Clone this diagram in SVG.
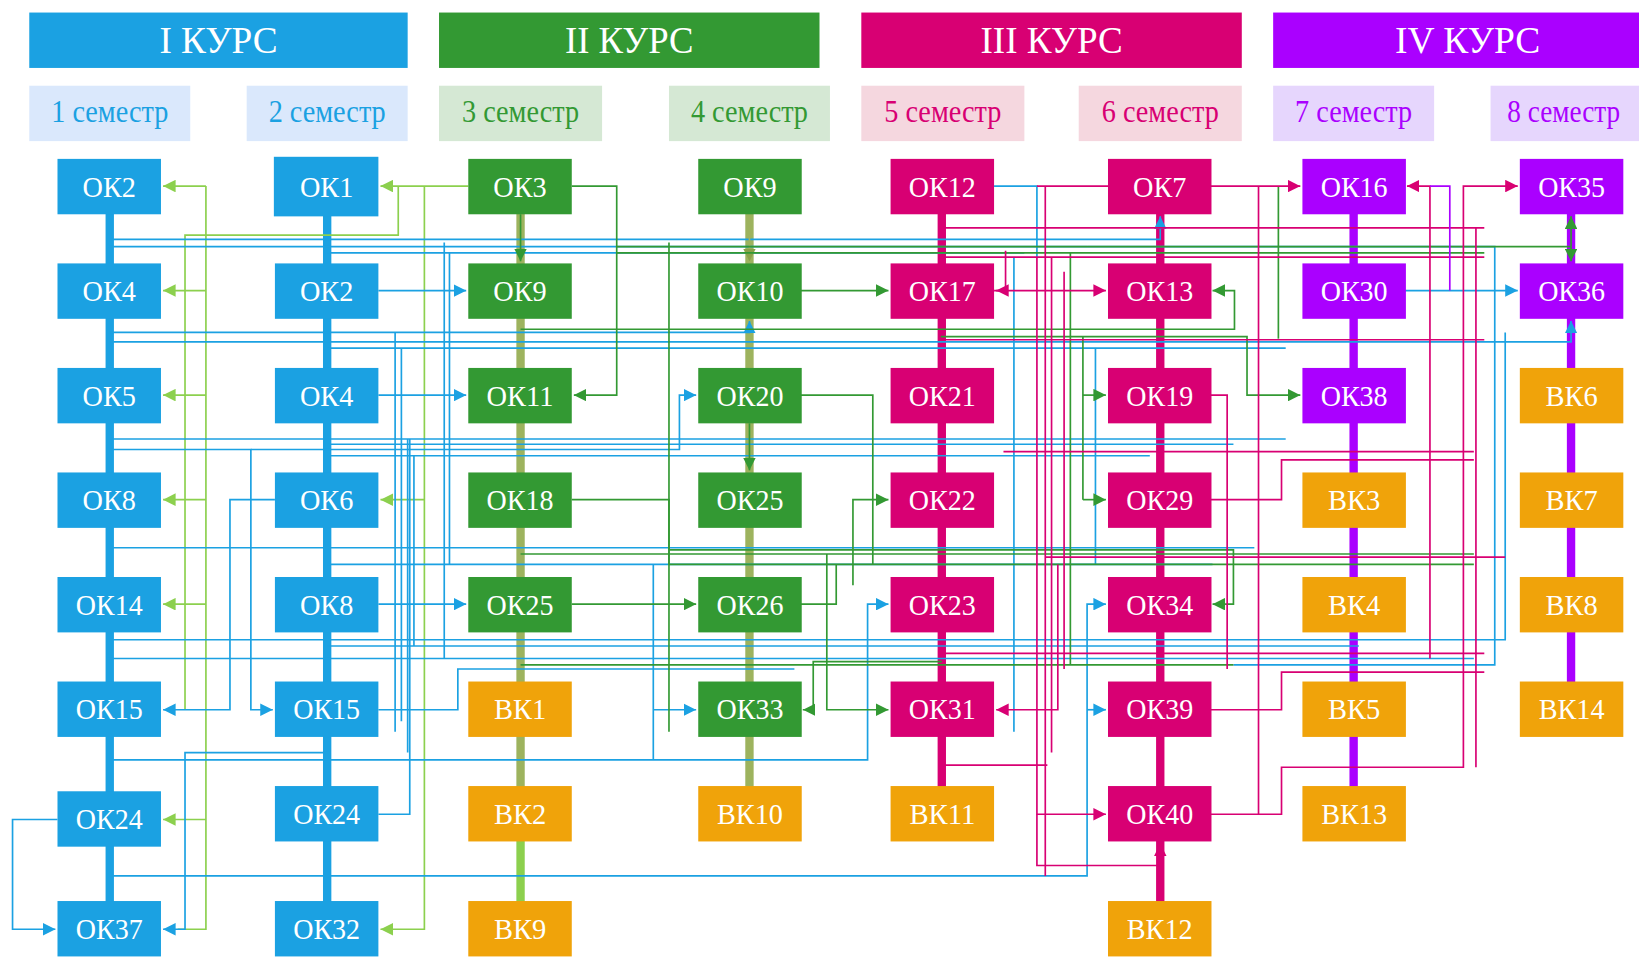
<svg xmlns="http://www.w3.org/2000/svg" width="1639" height="957" viewBox="0 0 1639 957">
<defs>
<style>
.hd{fill:#fff;font-family:"Liberation Serif",serif;font-size:37px;text-anchor:middle}
.st{font-family:"Liberation Serif",serif;font-size:30px;text-anchor:middle}
.nt{fill:#fff;font-family:"Liberation Serif",serif;font-size:29px;text-anchor:middle}
.cb{fill:#1ba1e2}.cg{fill:#339933}.cm{fill:#d80073}.cv{fill:#aa00ff}.ca{fill:#f0a30a}
path{fill:none;stroke-width:1.6}
.b{stroke:#1ba1e2}.g{stroke:#339933}.lg{stroke:#8cd04e}.m{stroke:#d80073}.v{stroke:#aa00ff}.ol{stroke:#9db35e}
.thk{stroke-width:8;stroke-linecap:round}
</style>
<marker id="ab" viewBox="0 0 10 10" refX="10" refY="5" markerWidth="12" markerHeight="12" markerUnits="userSpaceOnUse" orient="auto"><polygon points="0,0 10,5 0,10" fill="#1ba1e2"/></marker>
<marker id="ag" viewBox="0 0 10 10" refX="10" refY="5" markerWidth="12" markerHeight="12" markerUnits="userSpaceOnUse" orient="auto"><polygon points="0,0 10,5 0,10" fill="#339933"/></marker>
<marker id="alg" viewBox="0 0 10 10" refX="10" refY="5" markerWidth="12" markerHeight="12" markerUnits="userSpaceOnUse" orient="auto"><polygon points="0,0 10,5 0,10" fill="#8cd04e"/></marker>
<marker id="am" viewBox="0 0 10 10" refX="10" refY="5" markerWidth="12" markerHeight="12" markerUnits="userSpaceOnUse" orient="auto"><polygon points="0,0 10,5 0,10" fill="#d80073"/></marker>
<marker id="aol" viewBox="0 0 10 10" refX="10" refY="5" markerWidth="12" markerHeight="12" markerUnits="userSpaceOnUse" orient="auto"><polygon points="0,0 10,5 0,10" fill="#8aa34a"/></marker>
</defs>
<rect width="1639" height="957" fill="#fff"/>
<g transform="scale(1.04528)">
<g id="headers">
<rect x="28" y="12" width="362" height="53" class="cb"/><text x="209" y="51" class="hd" textLength="113" lengthAdjust="spacingAndGlyphs">I КУРС</text>
<rect x="420" y="12" width="364" height="53" class="cg"/><text x="602" y="51" class="hd" textLength="123" lengthAdjust="spacingAndGlyphs">II КУРС</text>
<rect x="824" y="12" width="364" height="53" class="cm"/><text x="1006" y="51" class="hd" textLength="136" lengthAdjust="spacingAndGlyphs">III КУРС</text>
<rect x="1218" y="12" width="364" height="53" class="cv"/><text x="1404" y="51" class="hd" textLength="139" lengthAdjust="spacingAndGlyphs">IV КУРС</text>
</g>
<g id="semesters">
<rect x="28" y="82" width="154" height="53" fill="#dae8fc"/><text x="105" y="117" class="st" fill="#1ba1e2" textLength="112" lengthAdjust="spacingAndGlyphs">1 семестр</text>
<rect x="236" y="82" width="154" height="53" fill="#dae8fc"/><text x="313" y="117" class="st" fill="#1ba1e2" textLength="112" lengthAdjust="spacingAndGlyphs">2 семестр</text>
<rect x="420" y="82" width="156" height="53" fill="#d5e8d4"/><text x="498" y="117" class="st" fill="#339933" textLength="112" lengthAdjust="spacingAndGlyphs">3 семестр</text>
<rect x="640" y="82" width="154" height="53" fill="#d5e8d4"/><text x="717" y="117" class="st" fill="#339933" textLength="112" lengthAdjust="spacingAndGlyphs">4 семестр</text>
<rect x="824" y="82" width="156" height="53" fill="#f5d7df"/><text x="902" y="117" class="st" fill="#d80073" textLength="112" lengthAdjust="spacingAndGlyphs">5 семестр</text>
<rect x="1032" y="82" width="156" height="53" fill="#f5d7df"/><text x="1110" y="117" class="st" fill="#d80073" textLength="112" lengthAdjust="spacingAndGlyphs">6 семестр</text>
<rect x="1218" y="82" width="154" height="53" fill="#e6d6fd"/><text x="1295" y="117" class="st" fill="#aa00ff" textLength="112" lengthAdjust="spacingAndGlyphs">7 семестр</text>
<rect x="1426" y="82" width="156" height="53" fill="#e6d6fd"/><text x="1496" y="117" class="st" fill="#aa00ff" textLength="108" lengthAdjust="spacingAndGlyphs">8 семестр</text>
</g>
<g id="connectors">
<path class="b thk" d="M105,178 V889"/>
<path class="b thk" d="M313,178 V889"/>
<path class="ol thk" d="M498,178 V779"/>
<path class="lg thk" d="M498,779 V889"/>
<path class="ol thk" d="M717,178 V779"/>
<path class="m thk" d="M901,178 V779"/>
<path class="m thk" d="M1110,178 V889"/>
<path class="v thk" d="M1295,178 V779"/>
<path class="v thk" d="M1503,178 V679"/>
<path class="lg" d="M448,178 H364" marker-end="url(#alg)"/>
<path class="lg" d="M381,178 V225 H177 V679"/>
<path class="lg" d="M197,178 V889 H170"/>
<path class="lg" d="M197,178 H156" marker-end="url(#alg)"/>
<path class="lg" d="M197,278 H156" marker-end="url(#alg)"/>
<path class="lg" d="M197,378 H156" marker-end="url(#alg)"/>
<path class="lg" d="M197,478 H156" marker-end="url(#alg)"/>
<path class="lg" d="M197,578 H156" marker-end="url(#alg)"/>
<path class="lg" d="M197,784 H156" marker-end="url(#alg)"/>
<path class="lg" d="M406,178 V889 H364" marker-end="url(#alg)"/>
<path class="lg" d="M406,478 H364" marker-end="url(#alg)"/>
<path class="b" d="M105,229 H1110 V207" marker-end="url(#ab)"/>
<path class="b" d="M105,236 H1040"/>
<path class="b" d="M313,242 H980"/>
<path class="b" d="M105,318 H717 V307" marker-end="url(#ab)"/>
<path class="b" d="M105,327 H1503 V307" marker-end="url(#ab)"/>
<path class="b" d="M313,333 H1230"/>
<path class="b" d="M362,278 H446" marker-end="url(#ab)"/>
<path class="b" d="M362,378 H446" marker-end="url(#ab)"/>
<path class="b" d="M362,578 H446" marker-end="url(#ab)"/>
<path class="b" d="M1344,278 H1452" marker-end="url(#ab)"/>
<path class="b" d="M263,478 H220 V679 H156" marker-end="url(#ab)"/>
<path class="b" d="M105,430 H240 V679 H261" marker-end="url(#ab)"/>
<path class="b" d="M240,430 H650 V378 H666" marker-end="url(#ab)"/>
<path class="b" d="M313,720 H177 V889 H156" marker-end="url(#ab)"/>
<path class="b" d="M55,784 H12 V889 H53" marker-end="url(#ab)"/>
<path class="b" d="M105,838 H1040 V578 H1058" marker-end="url(#ab)"/>
<path class="b" d="M1040,679 H1058" marker-end="url(#ab)"/>
<path class="b" d="M105,727 H830 V578 H850" marker-end="url(#ab)"/>
<path class="b" d="M625,540 V727"/>
<path class="b" d="M625,679 H666" marker-end="url(#ab)"/>
<path class="b" d="M951,178 H992 V246"/>
<path class="b" d="M105,420 H1230"/>
<path class="b" d="M313,425 H1180"/>
<path class="b" d="M313,436 H1100"/>
<path class="b" d="M105,524 H1200"/>
<path class="b" d="M313,540 H1160"/>
<path class="b" d="M105,612 H1440 V318"/>
<path class="b" d="M313,618 H1300"/>
<path class="b" d="M105,630 H1410"/>
<path class="b" d="M1040,236 H1430 V636 H1180"/>
<path class="b" d="M378,318 V700"/>
<path class="b" d="M384,333 V690"/>
<path class="b" d="M390,420 V720"/>
<path class="b" d="M396,436 V618"/>
<path class="b" d="M425,232 V630"/>
<path class="b" d="M430,242 V540"/>
<path class="b" d="M362,779 H392 V420"/>
<path class="b" d="M362,679 H438 V640 H760"/>
<path class="b" d="M970,246 V700"/>
<path class="b" d="M1048,333 V540"/>
<path class="g" d="M498,205 V250" marker-end="url(#ag)"/>
<path class="ol" d="M717,205 V250" marker-end="url(#aol)"/>
<path class="g" d="M547,178 H590 V378 H549" marker-end="url(#ag)"/>
<path class="g" d="M766,278 H850" marker-end="url(#ag)"/>
<path class="g" d="M717,405 V450" marker-end="url(#ag)"/>
<path class="g" d="M547,578 H666" marker-end="url(#ag)"/>
<path class="g" d="M901,633 H778 V679 H768" marker-end="url(#ag)"/>
<path class="g" d="M816,560 V478 H850" marker-end="url(#ag)"/>
<path class="g" d="M791,530 V679 H850" marker-end="url(#ag)"/>
<path class="g" d="M498,315 H1181 V278 H1160" stroke-width="3" marker-end="url(#ag)"/>
<path class="g" d="M1036,322 V478"/>
<path class="g" d="M1036,378 H1058" marker-end="url(#ag)"/>
<path class="g" d="M1036,478 H1058" marker-end="url(#ag)"/>
<path class="g" d="M640,526 H1180 V578 H1160" marker-end="url(#ag)"/>
<path class="g" d="M900,322 H1193 V378 H1244" marker-end="url(#ag)"/>
<path class="g" d="M590,236 H1503"/>
<path class="g" d="M1503,236 V207" marker-end="url(#ag)"/>
<path class="g" d="M1503,236 V250" marker-end="url(#ag)"/>
<path class="g" d="M1223,178 V324"/>
<path class="g" d="M547,478 H640 V540"/>
<path class="g" d="M766,378 H835 V540"/>
<path class="g" d="M766,578 H800 V540"/>
<path class="g" d="M498,530 H1410"/>
<path class="g" d="M590,242 H1420"/>
<path class="g" d="M640,540 H1410"/>
<path class="g" d="M498,636 H1180"/>
<path class="g" d="M640,232 V700"/>
<path class="g" d="M1024,242 V636"/>
<path class="m" d="M1158,178 H1244" marker-end="url(#am)"/>
<path class="m" d="M992,178 H1060"/>
<path class="m" d="M951,278 H1058" marker-end="url(#am)"/>
<path class="m" d="M962,240 V278 H953" marker-end="url(#am)"/>
<path class="m" d="M1368,630 V178 H1346" marker-end="url(#am)"/>
<path class="m" d="M1158,779 H1226 V734 H1400 V178 H1452" marker-end="url(#am)"/>
<path class="m" d="M1412,734 V218"/>
<path class="m" d="M1204,779 V178"/>
<path class="m" d="M1158,679 H1226 V643 H1420"/>
<path class="m" d="M1158,478 H1226 V440 H1410"/>
<path class="m" d="M1158,378 H1174 V640"/>
<path class="m" d="M1012,540 V679 H953" marker-end="url(#am)"/>
<path class="m" d="M992,246 V779 H1058" marker-end="url(#am)"/>
<path class="m" d="M992,779 V828 H1110"/>
<path class="m" d="M1110,845 V807" marker-end="url(#am)"/>
<path class="m" d="M901,218 H1420"/>
<path class="m" d="M901,246 H1420"/>
<path class="m" d="M901,325 H1420"/>
<path class="m" d="M960,432 H1410"/>
<path class="m" d="M1000,533 H1440"/>
<path class="m" d="M901,625 H1420"/>
<path class="m" d="M901,732 H1002"/>
<path class="m" d="M1000,178 V838"/>
<path class="m" d="M1006,246 V720"/>
<path class="m" d="M1018,260 V640"/>
<path class="v" d="M1368,178 H1387 V278"/>
</g>
<g id="n-c1-ok2"><rect x="55" y="152" width="99" height="53" class="cb"/><text x="104.5" y="188" class="nt" textLength="51" lengthAdjust="spacingAndGlyphs">ОК2</text></g>
<g id="n-c1-ok4"><rect x="55" y="252" width="99" height="53" class="cb"/><text x="104.5" y="288" class="nt" textLength="51" lengthAdjust="spacingAndGlyphs">ОК4</text></g>
<g id="n-c1-ok5"><rect x="55" y="352" width="99" height="53" class="cb"/><text x="104.5" y="388" class="nt" textLength="51" lengthAdjust="spacingAndGlyphs">ОК5</text></g>
<g id="n-c1-ok8"><rect x="55" y="452" width="99" height="53" class="cb"/><text x="104.5" y="488" class="nt" textLength="51" lengthAdjust="spacingAndGlyphs">ОК8</text></g>
<g id="n-c1-ok14"><rect x="55" y="552" width="99" height="53" class="cb"/><text x="104.5" y="588" class="nt" textLength="64" lengthAdjust="spacingAndGlyphs">ОК14</text></g>
<g id="n-c1-ok15"><rect x="55" y="652" width="99" height="53" class="cb"/><text x="104.5" y="688" class="nt" textLength="64" lengthAdjust="spacingAndGlyphs">ОК15</text></g>
<g id="n-c1-ok24"><rect x="55" y="757" width="99" height="53" class="cb"/><text x="104.5" y="793" class="nt" textLength="64" lengthAdjust="spacingAndGlyphs">ОК24</text></g>
<g id="n-c1-ok37"><rect x="55" y="862" width="99" height="53" class="cb"/><text x="104.5" y="898" class="nt" textLength="64" lengthAdjust="spacingAndGlyphs">ОК37</text></g>
<g id="n-c2-ok1"><rect x="262" y="150" width="100" height="57" class="cb"/><text x="312.5" y="188" class="nt" textLength="51" lengthAdjust="spacingAndGlyphs">ОК1</text></g>
<g id="n-c2-ok2"><rect x="263" y="252" width="99" height="53" class="cb"/><text x="312.5" y="288" class="nt" textLength="51" lengthAdjust="spacingAndGlyphs">ОК2</text></g>
<g id="n-c2-ok4"><rect x="263" y="352" width="99" height="53" class="cb"/><text x="312.5" y="388" class="nt" textLength="51" lengthAdjust="spacingAndGlyphs">ОК4</text></g>
<g id="n-c2-ok6"><rect x="263" y="452" width="99" height="53" class="cb"/><text x="312.5" y="488" class="nt" textLength="51" lengthAdjust="spacingAndGlyphs">ОК6</text></g>
<g id="n-c2-ok8"><rect x="263" y="552" width="99" height="53" class="cb"/><text x="312.5" y="588" class="nt" textLength="51" lengthAdjust="spacingAndGlyphs">ОК8</text></g>
<g id="n-c2-ok15"><rect x="263" y="652" width="99" height="53" class="cb"/><text x="312.5" y="688" class="nt" textLength="64" lengthAdjust="spacingAndGlyphs">ОК15</text></g>
<g id="n-c2-ok24"><rect x="263" y="752" width="99" height="53" class="cb"/><text x="312.5" y="788" class="nt" textLength="64" lengthAdjust="spacingAndGlyphs">ОК24</text></g>
<g id="n-c2-ok32"><rect x="263" y="862" width="99" height="53" class="cb"/><text x="312.5" y="898" class="nt" textLength="64" lengthAdjust="spacingAndGlyphs">ОК32</text></g>
<g id="n-c3-ok3"><rect x="448" y="152" width="99" height="53" class="cg"/><text x="497.5" y="188" class="nt" textLength="51" lengthAdjust="spacingAndGlyphs">ОК3</text></g>
<g id="n-c3-ok9"><rect x="448" y="252" width="99" height="53" class="cg"/><text x="497.5" y="288" class="nt" textLength="51" lengthAdjust="spacingAndGlyphs">ОК9</text></g>
<g id="n-c3-ok11"><rect x="448" y="352" width="99" height="53" class="cg"/><text x="497.5" y="388" class="nt" textLength="64" lengthAdjust="spacingAndGlyphs">ОК11</text></g>
<g id="n-c3-ok18"><rect x="448" y="452" width="99" height="53" class="cg"/><text x="497.5" y="488" class="nt" textLength="64" lengthAdjust="spacingAndGlyphs">ОК18</text></g>
<g id="n-c3-ok25"><rect x="448" y="552" width="99" height="53" class="cg"/><text x="497.5" y="588" class="nt" textLength="64" lengthAdjust="spacingAndGlyphs">ОК25</text></g>
<g id="n-c3-bk1"><rect x="448" y="652" width="99" height="53" class="ca"/><text x="497.5" y="688" class="nt" textLength="50" lengthAdjust="spacingAndGlyphs">ВК1</text></g>
<g id="n-c3-bk2"><rect x="448" y="752" width="99" height="53" class="ca"/><text x="497.5" y="788" class="nt" textLength="50" lengthAdjust="spacingAndGlyphs">ВК2</text></g>
<g id="n-c3-bk9"><rect x="448" y="862" width="99" height="53" class="ca"/><text x="497.5" y="898" class="nt" textLength="50" lengthAdjust="spacingAndGlyphs">ВК9</text></g>
<g id="n-c4-ok9"><rect x="668" y="152" width="99" height="53" class="cg"/><text x="717.5" y="188" class="nt" textLength="51" lengthAdjust="spacingAndGlyphs">ОК9</text></g>
<g id="n-c4-ok10"><rect x="668" y="252" width="99" height="53" class="cg"/><text x="717.5" y="288" class="nt" textLength="64" lengthAdjust="spacingAndGlyphs">ОК10</text></g>
<g id="n-c4-ok20"><rect x="668" y="352" width="99" height="53" class="cg"/><text x="717.5" y="388" class="nt" textLength="64" lengthAdjust="spacingAndGlyphs">ОК20</text></g>
<g id="n-c4-ok25"><rect x="668" y="452" width="99" height="53" class="cg"/><text x="717.5" y="488" class="nt" textLength="64" lengthAdjust="spacingAndGlyphs">ОК25</text></g>
<g id="n-c4-ok26"><rect x="668" y="552" width="99" height="53" class="cg"/><text x="717.5" y="588" class="nt" textLength="64" lengthAdjust="spacingAndGlyphs">ОК26</text></g>
<g id="n-c4-ok33"><rect x="668" y="652" width="99" height="53" class="cg"/><text x="717.5" y="688" class="nt" textLength="64" lengthAdjust="spacingAndGlyphs">ОК33</text></g>
<g id="n-c4-bk10"><rect x="668" y="752" width="99" height="53" class="ca"/><text x="717.5" y="788" class="nt" textLength="63" lengthAdjust="spacingAndGlyphs">ВК10</text></g>
<g id="n-c5-ok12"><rect x="852" y="152" width="99" height="53" class="cm"/><text x="901.5" y="188" class="nt" textLength="64" lengthAdjust="spacingAndGlyphs">ОК12</text></g>
<g id="n-c5-ok17"><rect x="852" y="252" width="99" height="53" class="cm"/><text x="901.5" y="288" class="nt" textLength="64" lengthAdjust="spacingAndGlyphs">ОК17</text></g>
<g id="n-c5-ok21"><rect x="852" y="352" width="99" height="53" class="cm"/><text x="901.5" y="388" class="nt" textLength="64" lengthAdjust="spacingAndGlyphs">ОК21</text></g>
<g id="n-c5-ok22"><rect x="852" y="452" width="99" height="53" class="cm"/><text x="901.5" y="488" class="nt" textLength="64" lengthAdjust="spacingAndGlyphs">ОК22</text></g>
<g id="n-c5-ok23"><rect x="852" y="552" width="99" height="53" class="cm"/><text x="901.5" y="588" class="nt" textLength="64" lengthAdjust="spacingAndGlyphs">ОК23</text></g>
<g id="n-c5-ok31"><rect x="852" y="652" width="99" height="53" class="cm"/><text x="901.5" y="688" class="nt" textLength="64" lengthAdjust="spacingAndGlyphs">ОК31</text></g>
<g id="n-c5-bk11"><rect x="852" y="752" width="99" height="53" class="ca"/><text x="901.5" y="788" class="nt" textLength="63" lengthAdjust="spacingAndGlyphs">ВК11</text></g>
<g id="n-c6-ok7"><rect x="1060" y="152" width="99" height="53" class="cm"/><text x="1109.5" y="188" class="nt" textLength="51" lengthAdjust="spacingAndGlyphs">ОК7</text></g>
<g id="n-c6-ok13"><rect x="1060" y="252" width="99" height="53" class="cm"/><text x="1109.5" y="288" class="nt" textLength="64" lengthAdjust="spacingAndGlyphs">ОК13</text></g>
<g id="n-c6-ok19"><rect x="1060" y="352" width="99" height="53" class="cm"/><text x="1109.5" y="388" class="nt" textLength="64" lengthAdjust="spacingAndGlyphs">ОК19</text></g>
<g id="n-c6-ok29"><rect x="1060" y="452" width="99" height="53" class="cm"/><text x="1109.5" y="488" class="nt" textLength="64" lengthAdjust="spacingAndGlyphs">ОК29</text></g>
<g id="n-c6-ok34"><rect x="1060" y="552" width="99" height="53" class="cm"/><text x="1109.5" y="588" class="nt" textLength="64" lengthAdjust="spacingAndGlyphs">ОК34</text></g>
<g id="n-c6-ok39"><rect x="1060" y="652" width="99" height="53" class="cm"/><text x="1109.5" y="688" class="nt" textLength="64" lengthAdjust="spacingAndGlyphs">ОК39</text></g>
<g id="n-c6-ok40"><rect x="1060" y="752" width="99" height="53" class="cm"/><text x="1109.5" y="788" class="nt" textLength="64" lengthAdjust="spacingAndGlyphs">ОК40</text></g>
<g id="n-c6-bk12"><rect x="1060" y="862" width="99" height="53" class="ca"/><text x="1109.5" y="898" class="nt" textLength="63" lengthAdjust="spacingAndGlyphs">ВК12</text></g>
<g id="n-c7-ok16"><rect x="1246" y="152" width="99" height="53" class="cv"/><text x="1295.5" y="188" class="nt" textLength="64" lengthAdjust="spacingAndGlyphs">ОК16</text></g>
<g id="n-c7-ok30"><rect x="1246" y="252" width="99" height="53" class="cv"/><text x="1295.5" y="288" class="nt" textLength="64" lengthAdjust="spacingAndGlyphs">ОК30</text></g>
<g id="n-c7-ok38"><rect x="1246" y="352" width="99" height="53" class="cv"/><text x="1295.5" y="388" class="nt" textLength="64" lengthAdjust="spacingAndGlyphs">ОК38</text></g>
<g id="n-c7-bk3"><rect x="1246" y="452" width="99" height="53" class="ca"/><text x="1295.5" y="488" class="nt" textLength="50" lengthAdjust="spacingAndGlyphs">ВК3</text></g>
<g id="n-c7-bk4"><rect x="1246" y="552" width="99" height="53" class="ca"/><text x="1295.5" y="588" class="nt" textLength="50" lengthAdjust="spacingAndGlyphs">ВК4</text></g>
<g id="n-c7-bk5"><rect x="1246" y="652" width="99" height="53" class="ca"/><text x="1295.5" y="688" class="nt" textLength="50" lengthAdjust="spacingAndGlyphs">ВК5</text></g>
<g id="n-c7-bk13"><rect x="1246" y="752" width="99" height="53" class="ca"/><text x="1295.5" y="788" class="nt" textLength="63" lengthAdjust="spacingAndGlyphs">ВК13</text></g>
<g id="n-c8-ok35"><rect x="1454" y="152" width="99" height="53" class="cv"/><text x="1503.5" y="188" class="nt" textLength="64" lengthAdjust="spacingAndGlyphs">ОК35</text></g>
<g id="n-c8-ok36"><rect x="1454" y="252" width="99" height="53" class="cv"/><text x="1503.5" y="288" class="nt" textLength="64" lengthAdjust="spacingAndGlyphs">ОК36</text></g>
<g id="n-c8-bk6"><rect x="1454" y="352" width="99" height="53" class="ca"/><text x="1503.5" y="388" class="nt" textLength="50" lengthAdjust="spacingAndGlyphs">ВК6</text></g>
<g id="n-c8-bk7"><rect x="1454" y="452" width="99" height="53" class="ca"/><text x="1503.5" y="488" class="nt" textLength="50" lengthAdjust="spacingAndGlyphs">ВК7</text></g>
<g id="n-c8-bk8"><rect x="1454" y="552" width="99" height="53" class="ca"/><text x="1503.5" y="588" class="nt" textLength="50" lengthAdjust="spacingAndGlyphs">ВК8</text></g>
<g id="n-c8-bk14"><rect x="1454" y="652" width="99" height="53" class="ca"/><text x="1503.5" y="688" class="nt" textLength="63" lengthAdjust="spacingAndGlyphs">ВК14</text></g>
</g>
</svg>
